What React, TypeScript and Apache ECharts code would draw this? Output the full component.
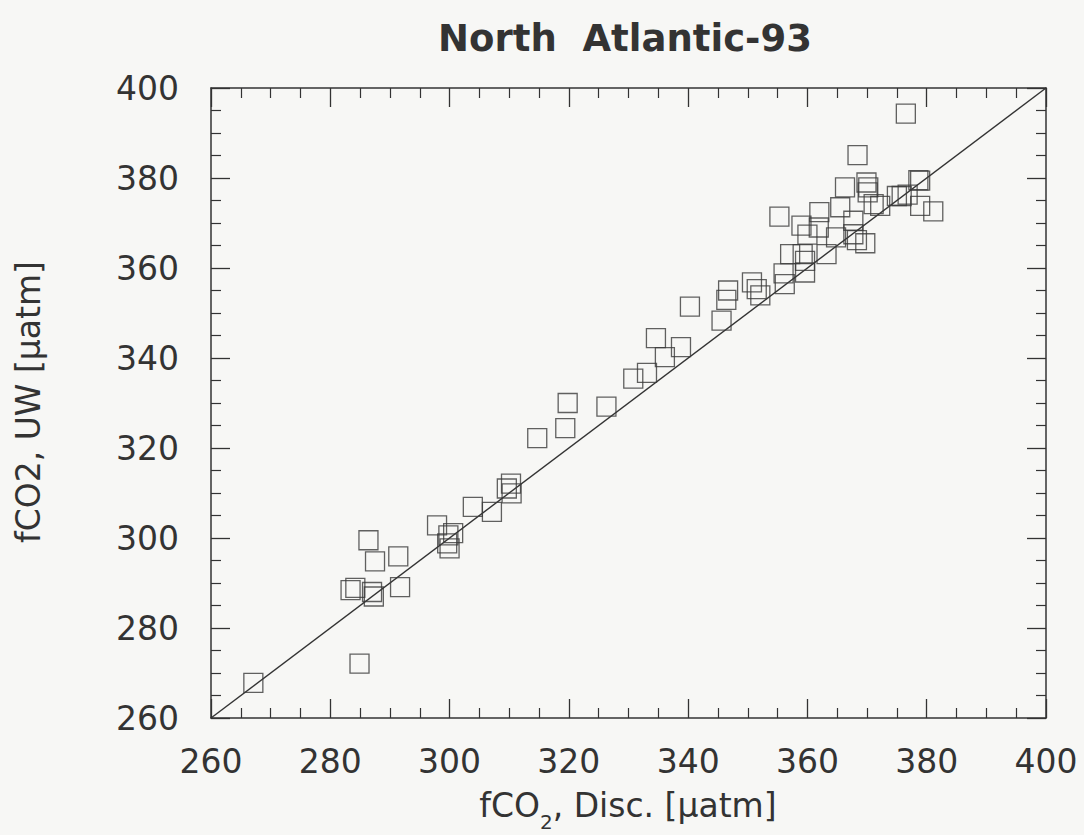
import React, { useEffect, useRef } from "react";
import * as echarts from "echarts";

const TITLE = "North  Atlantic-93";
const X_NAME_MAIN = "fCO";
const X_NAME_SUB = "2";
const X_NAME_REST = ", Disc. [µatm]";
const Y_NAME = "fCO2, UW [µatm]";

const AXIS_MIN = 260;
const AXIS_MAX = 400;
const AXIS_STEP = 20;

// fCO2 discrete (x) values
const discValues = [
  267.1, 284.9, 283.4, 284.2, 287.0, 287.3, 286.4, 287.5, 291.4, 291.7,
  297.9, 299.8, 300.6, 299.6, 300.0, 303.9, 307.1, 309.6, 310.3, 310.4,
  314.7, 319.8, 319.4, 326.3, 330.8, 333.1, 334.6, 336.1, 338.8, 340.3,
  345.6, 346.7, 346.4, 350.7, 351.5, 352.1, 356.0, 356.2, 359.6, 357.1,
  359.2, 359.6, 363.2, 355.3, 359.0, 360.0, 361.9, 362.0, 364.8, 365.5,
  366.3, 367.7, 367.7, 368.3, 369.7, 368.4, 369.9, 370.2, 370.1, 371.1,
  372.2, 375.0, 375.8, 376.8, 376.5, 378.6, 378.9, 378.9, 381.1,
];
// fCO2 underway (y) values
const uwValues = [
  267.8, 272.1, 288.4, 288.9, 288.0, 287.0, 299.5, 294.8, 295.9, 289.1,
  302.8, 300.6, 301.1, 298.8, 297.7, 306.9, 305.8, 311.0, 312.1, 309.9,
  322.2, 330.0, 324.4, 329.2, 335.4, 336.7, 344.4, 340.2, 342.4, 351.4,
  348.3, 355.0, 352.9, 356.8, 355.3, 353.9, 358.8, 356.4, 359.0, 363.1,
  363.1, 361.6, 363.1, 371.4, 369.4, 367.4, 369.0, 372.4, 366.8, 373.5,
  377.9, 370.5, 367.5, 366.2, 365.5, 385.1, 379.0, 377.9, 376.8, 374.2,
  373.8, 376.0, 376.0, 376.3, 394.3, 379.5, 379.4, 373.8, 372.6,
];
// 1:1 reference line endpoints
const oneToOne = [AXIS_MIN, AXIS_MAX];

const INK = "#333333";
const FONT = "DejaVu Sans";

export default function App() {
  const ref = useRef<HTMLDivElement>(null);

  useEffect(() => {
    if (!ref.current) return;
    const chart = echarts.init(ref.current, null, { renderer: "svg" });

    const points = discValues.map((x, i) => [x, uwValues[i]]);
    const line = oneToOne.map((v) => [v, v]);

    const axisCommon = {
      type: "value",
      min: AXIS_MIN,
      max: AXIS_MAX,
      interval: AXIS_STEP,
      splitLine: { show: false },
      axisLine: { show: true, onZero: false, lineStyle: { color: INK, width: 1.5 } },
      axisTick: { show: true, inside: true, length: 19, lineStyle: { color: INK, width: 1.3 } },
      minorTick: { show: true, splitNumber: 4, length: 10, lineStyle: { color: INK, width: 1.2 } },
      minorSplitLine: { show: false },
    };

    chart.setOption({
      animation: false,
      backgroundColor: "#f7f7f5",
      grid: {
        left: 211,
        right: 38,
        top: 88,
        bottom: 117,
        containLabel: false,
        outerBoundsMode: "none",
      },
      xAxis: [
        {
          ...axisCommon,
          position: "bottom",
          axisLabel: {
            show: true,
            margin: 27,
            color: INK,
            fontSize: 33,
            fontFamily: FONT,
          },
        },
        {
          ...axisCommon,
          position: "top",
          axisLabel: { show: false },
        },
      ],
      yAxis: [
        {
          ...axisCommon,
          position: "left",
          axisLabel: {
            show: true,
            margin: 32,
            color: INK,
            fontSize: 33,
            fontFamily: FONT,
          },
        },
        {
          ...axisCommon,
          position: "right",
          axisLabel: { show: false },
        },
      ],
      graphic: [
        {
          type: "text",
          x: 625,
          y: 38,
          style: {
            text: TITLE,
            fill: INK,
            font: `bold 37px "${FONT}"`,
            fontSize: 37,
            fontWeight: "bold",
            fontFamily: FONT,
            align: "center",
            verticalAlign: "middle",
            textAlign: "center",
            textVerticalAlign: "middle",
          },
        },
        {
          type: "text",
          x: 628,
          y: 805,
          style: {
            text: `{a|${X_NAME_MAIN}}{s|${X_NAME_SUB}}{a|${X_NAME_REST}}`,
            fill: INK,
            fontSize: 33,
            fontFamily: FONT,
            align: "center",
            verticalAlign: "middle",
            textAlign: "center",
            textVerticalAlign: "middle",
            rich: {
              a: { fontSize: 33, fontFamily: FONT, fill: INK, color: INK },
              s: {
                fontSize: 20,
                fontFamily: FONT,
                fill: INK,
                color: INK,
                padding: [34, 0, 0, 0],
              },
            },
          },
        },
        {
          type: "text",
          x: 28,
          y: 402,
          rotation: Math.PI / 2,
          style: {
            text: Y_NAME,
            fill: INK,
            fontSize: 33,
            fontFamily: FONT,
            align: "center",
            verticalAlign: "middle",
            textAlign: "center",
            textVerticalAlign: "middle",
          },
        },
      ],
      series: [
        {
          type: "line",
          data: line,
          xAxisIndex: 0,
          yAxisIndex: 0,
          showSymbol: false,
          symbol: "none",
          lineStyle: { color: INK, width: 1.4 },
          silent: true,
          z: 2,
        },
        {
          type: "scatter",
          data: points,
          xAxisIndex: 0,
          yAxisIndex: 0,
          symbol: "rect",
          symbolSize: 19,
          itemStyle: {
            color: "rgba(0,0,0,0)",
            borderColor: "#3a3a3a",
            borderWidth: 1.3,
          },
          z: 3,
        },
      ],
    });

    return () => chart.dispose();
  }, []);

  return (
    <div
      ref={ref}
      style={{ position: "fixed", left: 0, top: 0, width: 1084, height: 835 }}
    />
  );
}
